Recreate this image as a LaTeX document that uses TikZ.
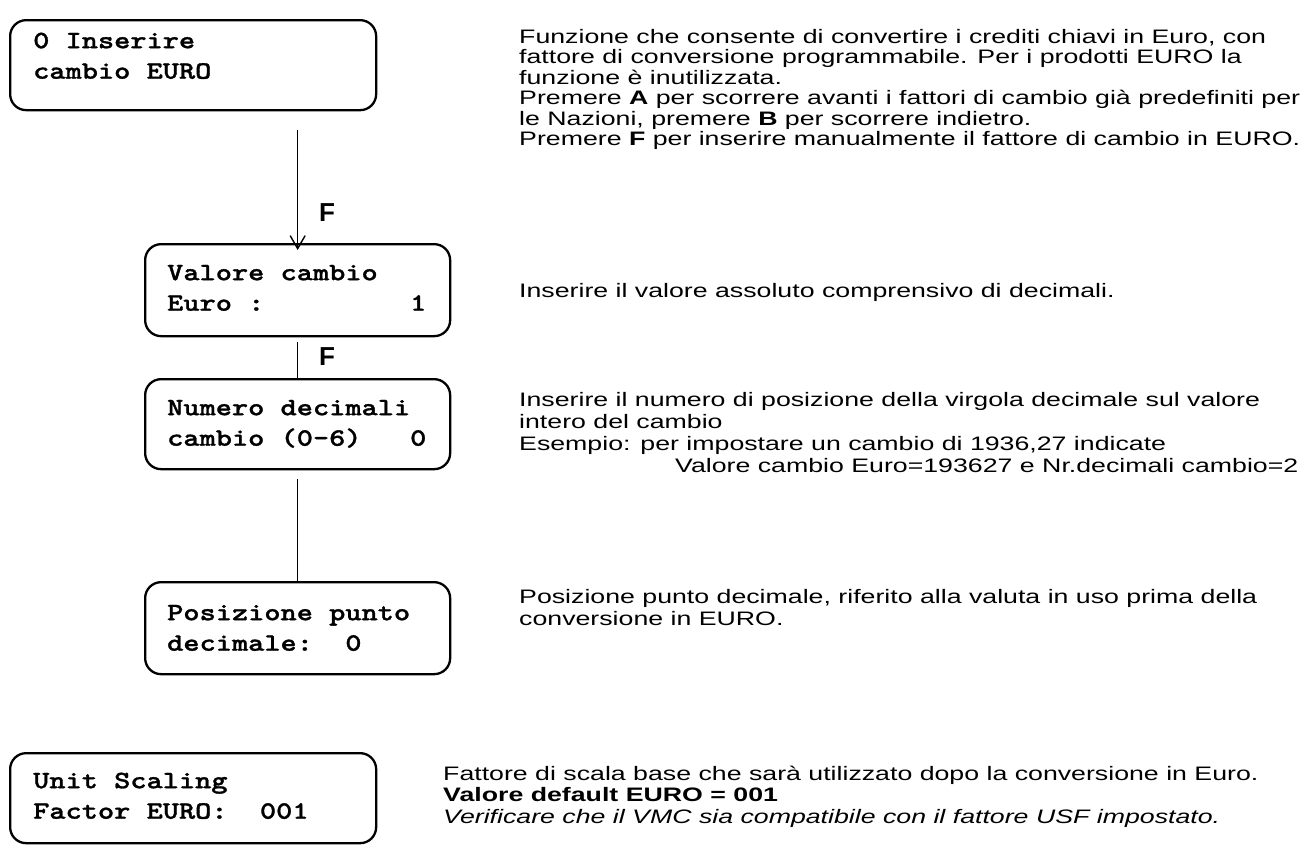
\documentclass[tikz,border=0pt]{standalone}
\usepackage{fontspec}
\setmainfont{Liberation Sans}
\newfontfamily\descfont{Liberation Sans}[FakeStretch=1.37]
\newfontfamily\lcdfont{lmmonolt10-bold.otf}[FakeStretch=1.234,FakeBold=1.2]
\usetikzlibrary{arrows.meta}
\newcommand\lsp{\phantom{0}}
\begin{document}
\begin{tikzpicture}[x=1pt,y=-1pt,
  box/.style={draw, line width=2.3pt, rounded corners=16pt, anchor=north west, inner sep=0pt},
  lcd/.style={anchor=north west, inner sep=0pt, align=left, font=\lcdfont\fontsize{25}{30.5}\selectfont},
  desc/.style={anchor=north west, inner sep=0pt, align=left, font=\descfont\fontsize{19.5}{20.5}\selectfont},
  key/.style={anchor=base west, inner sep=0pt, font=\fontsize{26}{30}\selectfont\bfseries},
  conn/.style={line width=1.4pt}]
\useasboundingbox (0,0) rectangle (1311,844);

% boxes
\node[box, minimum width=366pt, minimum height=90pt] (b1) at (9,19) {};
\node[box, minimum width=305pt, minimum height=92pt] (b2) at (144,243) {};
\node[box, minimum width=305pt, minimum height=90pt] (b3) at (144,378) {};
\node[box, minimum width=305pt, minimum height=92pt] (b4) at (144,581) {};
\node[box, minimum width=366pt, minimum height=90pt] (b5) at (9,752) {};

% box texts
\node[lcd] (t1) at (33,28) {\rule{0pt}{20pt}0\lsp Inserire\\cambio\lsp EURO};
\node[lcd] (t2) at (167,260) {\rule{0pt}{20pt}Valore\lsp cambio\\Euro\lsp:\lsp\lsp\lsp\lsp\lsp\lsp\lsp\lsp\lsp 1};
\node[lcd] (t3) at (167,395) {\rule{0pt}{20pt}Numero\lsp decimali\\cambio\lsp(0-6)\lsp\lsp\lsp 0};
\node[lcd] (t4) at (167,600) {\rule{0pt}{20pt}Posizione\lsp punto\\decimale:\lsp\lsp 0};
\node[lcd] (t5) at (33,768) {\rule{0pt}{20pt}Unit\lsp Scaling\\Factor\lsp EURO:\lsp\lsp 001};

% connectors
\draw[conn, -{Straight Barb[length=13pt,width=15pt]}, shorten <=19pt, shorten >=-7pt] (b1.south -| b2.north) -- (b2.north);
\draw[conn, shorten <=5pt] (b2.south) -- (b3.north);
\draw[conn, shorten <=9pt] (b3.south) -- (b4.north);
\node[key] (f1) at (319,221) {F};
\node[key] (f2) at (319,365) {F};

% descriptions
\node[desc] (d1) at (519,23) {\rule{0pt}{20pt}Funzione che consente di convertire i crediti chiavi in Euro, con\\fattore di conversione programmabile. Per i prodotti EURO la\\funzione è inutilizzata.\\Premere \textbf{A} per scorrere avanti i fattori di cambio già predefiniti per\\le Nazioni, premere \textbf{B} per scorrere indietro.\\Premere \textbf{F} per inserire manualmente il fattore di cambio in EURO.};
\node[desc] (d2) at (519,277) {\rule{0pt}{20pt}Inserire il valore assoluto comprensivo di decimali.};
\node[desc, font=\descfont\fontsize{19.5}{22}\selectfont] (d3) at (519,386) {\rule{0pt}{20pt}Inserire il numero di posizione della virgola decimale sul valore\\intero del cambio\\Esempio: per impostare un cambio di 1936,27 indicate\\\hspace*{156pt}Valore cambio Euro=193627 e Nr.decimali cambio=2};
\node[desc, font=\descfont\fontsize{19.5}{22}\selectfont] (d4) at (519,583) {\rule{0pt}{20pt}Posizione punto decimale, riferito alla valuta in uso prima della\\conversione in EURO.};
\node[desc, font=\descfont\fontsize{19.5}{21.5}\selectfont] (d5) at (443,760) {\rule{0pt}{20pt}Fattore di scala base che sarà utilizzato dopo la conversione in Euro.\\\textbf{Valore default EURO = 001}\\\textit{Verificare che il VMC sia compatibile con il fattore USF impostato.}};
\end{tikzpicture}
\end{document}
